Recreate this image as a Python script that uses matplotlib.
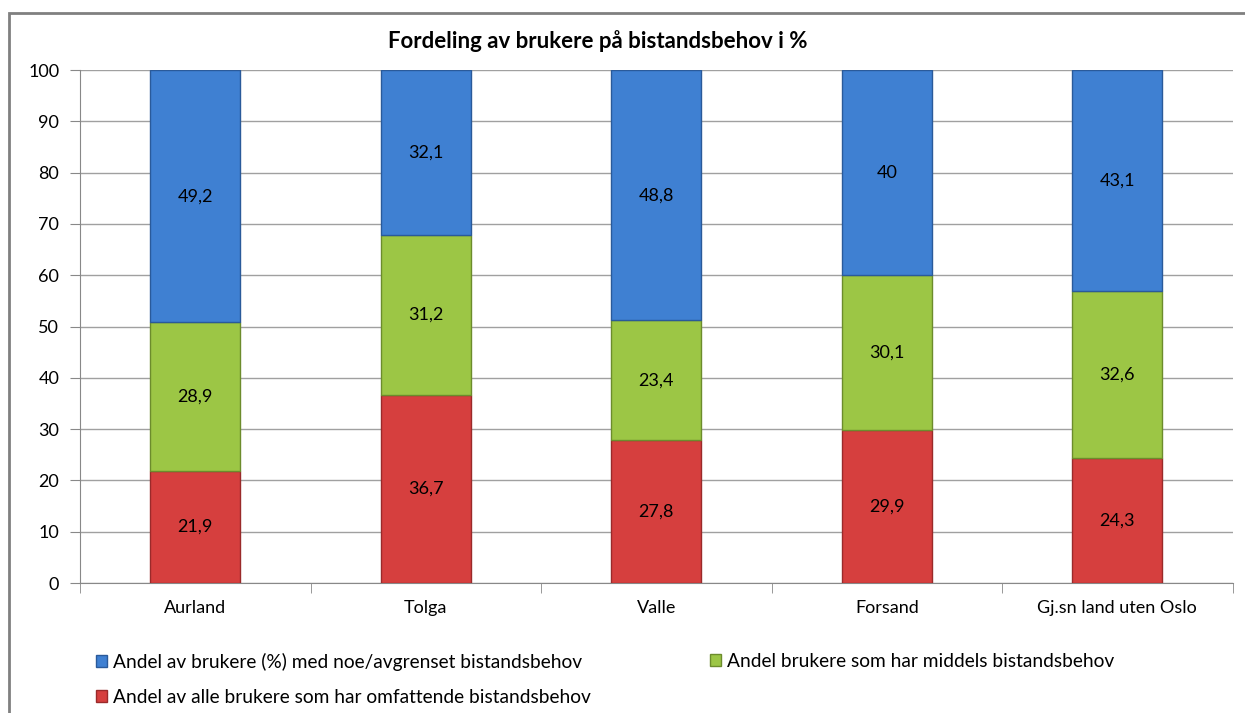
import numpy as np
import matplotlib
matplotlib.use("Agg")
import matplotlib.pyplot as plt
from matplotlib.patches import Patch, Rectangle

plt.rcParams['font.family'] = ['Lato', 'DejaVu Sans']

categories = ['Aurland', 'Tolga', 'Valle', 'Forsand', 'Gj.sn land uten Oslo']
omfattende = [21.9, 36.7, 27.8, 29.9, 24.3]   # red, bottom
middels = [28.9, 31.2, 23.4, 30.1, 32.6]      # green, middle
noe = [49.2, 32.1, 48.8, 40, 43.1]            # blue, top
labels = ['Andel av brukere (%) med noe/avgrenset bistandsbehov',
          'Andel brukere som har middels bistandsbehov',
          'Andel av alle brukere som har omfattende bistandsbehov']

C_BLUE, E_BLUE = '#3f80d2', '#2a5a9a'
C_GREEN, E_GREEN = '#9cc645', '#6c8c2c'
C_RED, E_RED = '#d63f3e', '#9a2a2a'

fig = plt.figure(figsize=(12.45, 7.13), dpi=100)
ax = fig.add_axes([0.0643, 0.1823, 0.9257, 0.7195])

x = np.arange(len(categories))
w = 0.39
red = np.array(omfattende)
green = np.array(middels)
blue = np.array(noe)

ax.bar(x, red, w, color=C_RED, edgecolor=E_RED, lw=1, zorder=3)
ax.bar(x, green, w, bottom=red, color=C_GREEN, edgecolor=E_GREEN, lw=1, zorder=3)
ax.bar(x, blue, w, bottom=red + green, color=C_BLUE, edgecolor=E_BLUE, lw=1, zorder=3)

def fmt(v):
    return f'{v:g}'.replace('.', ',')

for i in range(len(x)):
    ax.text(x[i], red[i] / 2, fmt(red[i]), ha='center', va='center', fontsize=13, zorder=4)
    ax.text(x[i], red[i] + green[i] / 2, fmt(green[i]), ha='center', va='center', fontsize=13, zorder=4)
    ax.text(x[i], red[i] + green[i] + blue[i] / 2, fmt(blue[i]), ha='center', va='center', fontsize=13, zorder=4)

ax.set_xlim(-0.5, len(x) - 0.5)
ax.set_ylim(0, 100)
ax.set_yticks(np.arange(0, 101, 10))
ax.set_xticks(x)
ax.set_xticklabels(categories)
ax.set_xticks(np.arange(-0.5, len(x), 1), minor=True)
ax.tick_params(axis='x', which='major', length=0, pad=12, labelsize=13)
ax.tick_params(axis='x', which='minor', length=7, color='#888888')
ax.tick_params(axis='y', length=7, color='#888888', pad=8, labelsize=13)
ax.grid(axis='y', color='#a0a0a0', lw=1, zorder=0)
for s in ['top', 'right']:
    ax.spines[s].set_visible(False)
for s in ['left', 'bottom']:
    ax.spines[s].set_color('#888888')

fig.text(598 / 1245, 1 - 41 / 713, 'Fordeling av brukere på bistandsbehov i %',
         ha='center', va='center', fontsize=16, fontweight='bold')

# outer chart frame
fig.patches.append(Rectangle((9 / 1245, -0.05), 1.1, 1 - 13 / 713 + 0.05,
                             transform=fig.transFigure, fill=False,
                             edgecolor='#808080', lw=2))

h_blue = Patch(facecolor=C_BLUE, edgecolor=E_BLUE)
h_green = Patch(facecolor=C_GREEN, edgecolor=E_GREEN)
h_red = Patch(facecolor=C_RED, edgecolor=E_RED)
leg_kw = dict(frameon=False, fontsize=13.8, handlelength=0.6, handleheight=0.6,
              handletextpad=0.3, labelspacing=0.95, borderaxespad=0)
fig.legend([h_blue, h_red], [labels[0], labels[2]], loc='upper left',
           bbox_to_anchor=(88 / 1245, 1 - 645 / 713), **leg_kw)
fig.legend([h_green], [labels[1]], loc='upper left',
           bbox_to_anchor=(702 / 1245, 1 - 645 / 713), **leg_kw)

fig.savefig('out.png', dpi=100)
